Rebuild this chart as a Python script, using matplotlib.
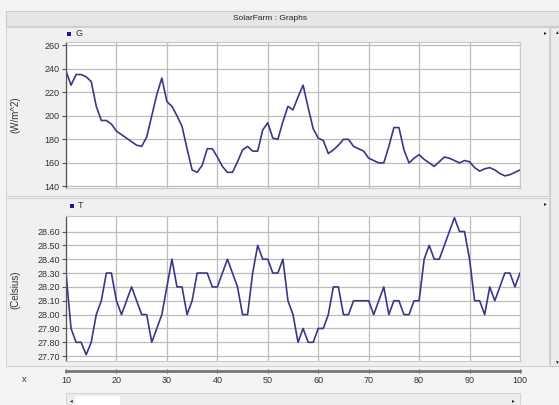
import matplotlib
matplotlib.use('Agg')
import matplotlib.pyplot as plt
from matplotlib.patches import Rectangle

# ====================== DATA ======================
x_vals = list(range(10, 101))

g_vals = [238, 226, 235, 235, 233, 229, 208, 196, 196, 193,
          187, 184, 181, 178, 175, 174, 182, 200, 218, 232,
          212, 208, 200, 191, 172, 154, 152, 158, 172, 172,
          165, 157, 152, 152, 161, 171, 174, 170, 170, 188,
          194, 181, 180, 195, 208, 205, 216, 226, 207, 189,
          181, 179, 168, 171, 175, 180, 180, 174, 172, 170,
          164, 162, 160, 160, 174, 190, 190, 171, 160, 164,
          167, 163, 160, 157, 161, 165, 164, 162, 160, 162,
          161, 156, 153, 155, 156, 154, 151, 149, 150, 152,
          154]

t_vals = [28.30, 27.90, 27.80, 27.80, 27.71, 27.80, 28.00, 28.10, 28.30, 28.30,
          28.10, 28.00, 28.10, 28.20, 28.10, 28.00, 28.00, 27.80, 27.90, 28.00,
          28.20, 28.40, 28.20, 28.20, 28.00, 28.10, 28.30, 28.30, 28.30, 28.20,
          28.20, 28.30, 28.40, 28.30, 28.20, 28.00, 28.00, 28.30, 28.50, 28.40,
          28.40, 28.30, 28.30, 28.40, 28.10, 28.00, 27.80, 27.90, 27.80, 27.80,
          27.90, 27.90, 28.00, 28.20, 28.20, 28.00, 28.00, 28.10, 28.10, 28.10,
          28.10, 28.00, 28.10, 28.20, 28.00, 28.10, 28.10, 28.00, 28.00, 28.10,
          28.10, 28.40, 28.50, 28.40, 28.40, 28.50, 28.60, 28.70, 28.60, 28.60,
          28.40, 28.10, 28.10, 28.00, 28.20, 28.10, 28.20, 28.30, 28.30, 28.20,
          28.30]

g_ticks = [140, 160, 180, 200, 220, 240, 260]
t_ticks = [27.70, 27.80, 27.90, 28.00, 28.10, 28.20, 28.30, 28.40, 28.50, 28.60]
x_ticks = [10, 20, 30, 40, 50, 60, 70, 80, 90, 100]

plt.rcParams['font.family'] = ['Liberation Sans', 'DejaVu Sans']

W, H = 559, 405
LINE = '#38388a'
GRID = '#bcbcbc'
TXT = '#333333'


def box(x0, y0, x1, y1):
    # pixel box (top-left origin) -> figure fraction [l, b, w, h]
    return [x0 / W, 1 - y1 / H, (x1 - x0) / W, (y1 - y0) / H]


def rect(x0, y0, x1, y1, fc, ec='none', lw=0.8, z=-5):
    l, b, w, h = box(x0, y0, x1, y1)
    fig.patches.append(Rectangle((l, b), w, h, transform=fig.transFigure,
                                 facecolor=fc, edgecolor=ec, lw=lw, zorder=z))


def ftext(x, y, s, **kw):
    fig.text(x / W, 1 - y / H, s, **kw)


fig = plt.figure(figsize=(W / 100, H / 100), dpi=100)
fig.patch.set_facecolor('#f4f4f4')

# window chrome
rect(6, 11, 559, 26, '#e6e6e6', ec='#cccccc')
ftext(270, 18.5, 'SolarFarm : Graphs', fontsize=6, color='#222222', ha='center', va='center')
rect(6, 27, 549, 196, '#f0f0f0', ec='#d4d4d4')
rect(6, 198, 549, 366, '#f0f0f0', ec='#d4d4d4')
rect(550, 27, 559, 366, '#ececec', ec='#cccccc')
ftext(556, 32, '\u25b2', fontsize=3.5, color='#333333', ha='center', va='center')
ftext(556, 362, '\u25bc', fontsize=3.5, color='#333333', ha='center', va='center')
ftext(545.5, 33, '\u25b8', fontsize=4, color='#222222', ha='center', va='center',
      family='DejaVu Sans')
ftext(545.5, 204, '\u25b8', fontsize=4, color='#222222', ha='center', va='center',
      family='DejaVu Sans')

# bottom scrollbar
rect(66, 393, 520, 405, '#ececec', ec='#d4d4d4')
rect(75, 396, 120, 405, '#ffffff', ec='none', z=-4)
ftext(71, 401, '\u25c2', fontsize=4, color='#222222', ha='center', va='center',
      family='DejaVu Sans')
ftext(513, 401, '\u25b8', fontsize=4, color='#222222', ha='center', va='center',
      family='DejaVu Sans')


def style_axes(ax, ticks, fmt):
    ax.set_facecolor('white')
    ax.set_xlim(10, 100)
    ax.set_xticks(x_ticks)
    ax.set_yticks(ticks)
    ax.set_yticklabels([fmt.format(v) for v in ticks])
    ax.grid(True, color=GRID, lw=0.9)
    ax.set_axisbelow(True)
    ax.tick_params(axis='x', length=0, labelbottom=False)
    ax.tick_params(axis='y', length=3, width=0.8, pad=1.5, labelsize=6.5,
                   labelcolor=TXT, color='#555555')
    for s in ['top', 'right', 'bottom']:
        ax.spines[s].set_color('#c8c8c8')
        ax.spines[s].set_linewidth(0.8)
    ax.spines['left'].set_color('#555555')
    ax.spines['left'].set_linewidth(0.9)


# ====================== G (irradiance) ======================
ax1 = fig.add_axes(box(66, 42, 520, 188))
ax1.plot(x_vals, g_vals, color=LINE, lw=1.2)
ax1.set_ylim(138.7, 262.6)
style_axes(ax1, g_ticks, '{:.0f}')
ftext(15, 115, '(W/m^2)', fontsize=7, color=TXT, rotation=90, ha='center', va='center')
rect(67, 32, 71, 36, '#1a1a8a', z=5)
ftext(75, 34, 'G', fontsize=6.5, color=TXT, ha='left', va='center')

# ====================== T (temperature) ======================
ax2 = fig.add_axes(box(66, 216, 520, 361))
ax2.plot(x_vals, t_vals, color=LINE, lw=1.2)
ax2.set_ylim(27.665, 28.712)
style_axes(ax2, t_ticks, '{:.2f}')
ftext(15, 290, '(Celsius)', fontsize=7, color=TXT, rotation=90, ha='center', va='center')
rect(70, 204, 74, 208, '#1a1a8a', z=5)
ftext(78, 206, 'T', fontsize=6.5, color=TXT, ha='left', va='center')

# ====================== shared x axis strip ======================
ax3 = fig.add_axes(box(66, 369, 520, 371))
ax3.set_xlim(10, 100)
ax3.set_xticks(x_ticks)
ax3.set_yticks([])
ax3.patch.set_alpha(0)
for s in ['top', 'right', 'left']:
    ax3.spines[s].set_visible(False)
ax3.spines['bottom'].set_color('#777777')
ax3.spines['bottom'].set_linewidth(2)
ax3.tick_params(axis='x', direction='inout', length=3, width=0.8, pad=2,
                labelsize=6.5, labelcolor=TXT, color='#555555')
ftext(24, 379, 'x', fontsize=6.5, color=TXT, ha='center', va='center')

fig.savefig('out.png', dpi=100)
